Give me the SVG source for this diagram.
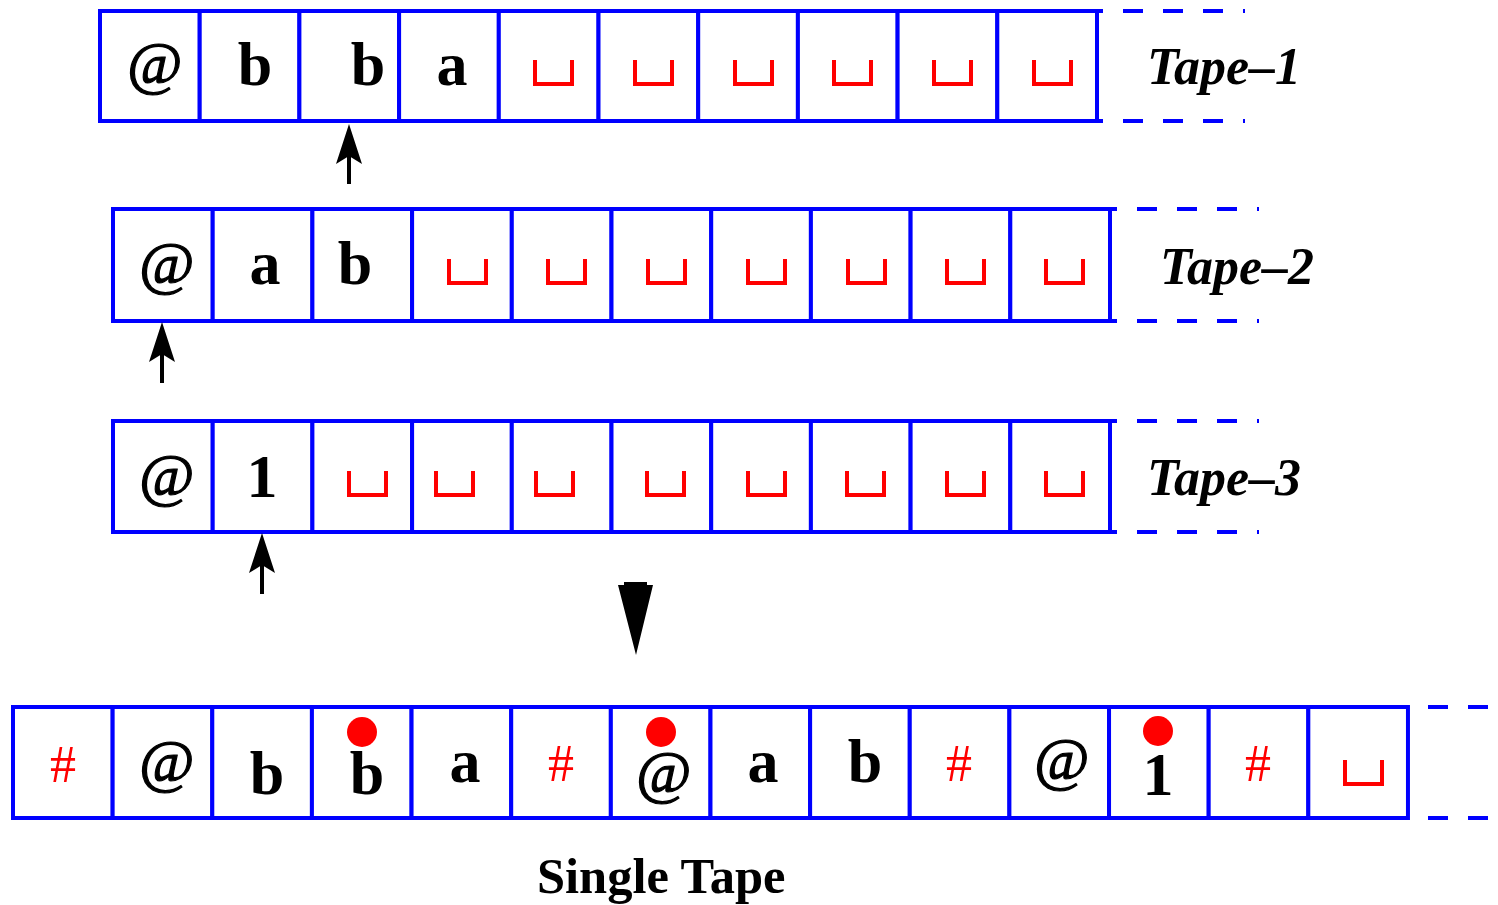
<svg xmlns="http://www.w3.org/2000/svg" width="1498" height="905" viewBox="0 0 1498 905">
  <style>
    .cell { fill: #ffffff; stroke: #0000ff; stroke-width: 4; }
    .ext { stroke: #0000ff; stroke-width: 4; stroke-dasharray: 20 20; fill: none; }
    .sym { font-family: "Liberation Serif", "Times New Roman", serif; font-weight: bold; font-size: 62px; fill: #000000; text-anchor: middle; }
    .at { font-family: "Liberation Serif", "Times New Roman", serif; font-size: 60px; fill: #000000; stroke: #000000; stroke-width: 1.2; text-anchor: middle; }
    .hash { font-family: "Liberation Serif", "Times New Roman", serif; font-size: 52px; fill: #ff0000; text-anchor: middle; }
    .label { font-family: "Liberation Serif", "Times New Roman", serif; font-weight: bold; font-style: italic; font-size: 52px; fill: #000000; }
    .title { font-family: "Liberation Serif", "Times New Roman", serif; font-weight: bold; font-size: 50.5px; fill: #000000; }
    .blank { fill: none; stroke: #ff0000; stroke-width: 4; }
    .head { fill: #ff0000; }
    .shaft { stroke: #000000; stroke-width: 4; fill: none; }
  </style>
  <defs>
    <!-- blank-cell symbol: an open-topped box -->
    <path id="blank" class="blank" d="M2,0 V24 H39 V0"/>
    <!-- notched head for the tape-head pointers -->
    <marker id="up" viewBox="0 0 40 26" refX="14" refY="13" markerWidth="40" markerHeight="26" markerUnits="userSpaceOnUse" orient="auto">
      <path d="M0,0 L40,13 L0,26 L8,13 Z" fill="#000000"/>
    </marker>
  </defs>

  <!-- Tape 1 -->
  <g id="tape1">
    <rect class="cell" x="100" y="11" width="99.7" height="110"/>
    <rect class="cell" x="199.7" y="11" width="99.7" height="110"/>
    <rect class="cell" x="299.4" y="11" width="99.7" height="110"/>
    <rect class="cell" x="399.1" y="11" width="99.7" height="110"/>
    <rect class="cell" x="498.8" y="11" width="99.7" height="110"/>
    <rect class="cell" x="598.5" y="11" width="99.7" height="110"/>
    <rect class="cell" x="698.2" y="11" width="99.7" height="110"/>
    <rect class="cell" x="797.9" y="11" width="99.7" height="110"/>
    <rect class="cell" x="897.6" y="11" width="99.7" height="110"/>
    <rect class="cell" x="997.3" y="11" width="99.7" height="110"/>
    <path class="ext" d="M1083,11 H1245 M1083,121 H1245"/>
    <text class="at" x="155" y="83">@</text>
    <text class="sym" x="255" y="85">b</text>
    <text class="sym" x="368" y="85">b</text>
    <text class="sym" x="452" y="85">a</text>
    <use href="#blank" x="533" y="60"/>
    <use href="#blank" x="633" y="60"/>
    <use href="#blank" x="733" y="60"/>
    <use href="#blank" x="832" y="60"/>
    <use href="#blank" x="932" y="60"/>
    <use href="#blank" x="1032" y="60"/>
  </g>
  <g id="label1"><text class="label" x="1147" y="84">Tape–1</text></g>

  <!-- Tape 2 -->
  <g id="tape2">
    <rect class="cell" x="113" y="209" width="99.7" height="112"/>
    <rect class="cell" x="212.7" y="209" width="99.7" height="112"/>
    <rect class="cell" x="312.4" y="209" width="99.7" height="112"/>
    <rect class="cell" x="412.1" y="209" width="99.7" height="112"/>
    <rect class="cell" x="511.8" y="209" width="99.7" height="112"/>
    <rect class="cell" x="611.5" y="209" width="99.7" height="112"/>
    <rect class="cell" x="711.2" y="209" width="99.7" height="112"/>
    <rect class="cell" x="810.9" y="209" width="99.7" height="112"/>
    <rect class="cell" x="910.6" y="209" width="99.7" height="112"/>
    <rect class="cell" x="1010.3" y="209" width="99.7" height="112"/>
    <path class="ext" d="M1097,209 H1259 M1097,321 H1259"/>
    <text class="at" x="167" y="283">@</text>
    <text class="sym" x="265" y="284">a</text>
    <text class="sym" x="355" y="284">b</text>
    <use href="#blank" x="447" y="259"/>
    <use href="#blank" x="546" y="259"/>
    <use href="#blank" x="646" y="259"/>
    <use href="#blank" x="746" y="259"/>
    <use href="#blank" x="846" y="259"/>
    <use href="#blank" x="945" y="259"/>
    <use href="#blank" x="1044" y="259"/>
  </g>
  <g id="label2"><text class="label" x="1160" y="284">Tape–2</text></g>

  <!-- Tape 3 -->
  <g id="tape3">
    <rect class="cell" x="113" y="421" width="99.7" height="111"/>
    <rect class="cell" x="212.7" y="421" width="99.7" height="111"/>
    <rect class="cell" x="312.4" y="421" width="99.7" height="111"/>
    <rect class="cell" x="412.1" y="421" width="99.7" height="111"/>
    <rect class="cell" x="511.8" y="421" width="99.7" height="111"/>
    <rect class="cell" x="611.5" y="421" width="99.7" height="111"/>
    <rect class="cell" x="711.2" y="421" width="99.7" height="111"/>
    <rect class="cell" x="810.9" y="421" width="99.7" height="111"/>
    <rect class="cell" x="910.6" y="421" width="99.7" height="111"/>
    <rect class="cell" x="1010.3" y="421" width="99.7" height="111"/>
    <path class="ext" d="M1097,421 H1259 M1097,532 H1259"/>
    <text class="at" x="167" y="495">@</text>
    <text class="sym" x="262" y="497">1</text>
    <use href="#blank" x="347" y="471"/>
    <use href="#blank" x="434" y="471"/>
    <use href="#blank" x="534" y="471"/>
    <use href="#blank" x="645" y="471"/>
    <use href="#blank" x="746" y="471"/>
    <use href="#blank" x="845" y="471"/>
    <use href="#blank" x="945" y="471"/>
    <use href="#blank" x="1044" y="471"/>
  </g>
  <g id="label3"><text class="label" x="1147" y="495">Tape–3</text></g>

  <!-- Combined single tape -->
  <g id="single">
    <rect class="cell" x="13" y="707" width="99.64" height="111"/>
    <rect class="cell" x="112.64" y="707" width="99.64" height="111"/>
    <rect class="cell" x="212.28" y="707" width="99.64" height="111"/>
    <rect class="cell" x="311.92" y="707" width="99.64" height="111"/>
    <rect class="cell" x="411.56" y="707" width="99.64" height="111"/>
    <rect class="cell" x="511.2" y="707" width="99.64" height="111"/>
    <rect class="cell" x="610.84" y="707" width="99.64" height="111"/>
    <rect class="cell" x="710.48" y="707" width="99.64" height="111"/>
    <rect class="cell" x="810.12" y="707" width="99.64" height="111"/>
    <rect class="cell" x="909.76" y="707" width="99.64" height="111"/>
    <rect class="cell" x="1009.4" y="707" width="99.64" height="111"/>
    <rect class="cell" x="1109.04" y="707" width="99.64" height="111"/>
    <rect class="cell" x="1208.68" y="707" width="99.64" height="111"/>
    <rect class="cell" x="1308.32" y="707" width="99.64" height="111"/>
    <path class="ext" d="M1388,707 H1490 M1388,818 H1490"/>
    <text class="hash" x="63" y="782">#</text>
    <text class="at" x="167" y="781">@</text>
    <text class="sym" x="267" y="794">b</text>
    <circle class="head" cx="362" cy="732" r="15"/>
    <text class="sym" x="367" y="794">b</text>
    <text class="sym" x="465" y="782">a</text>
    <text class="hash" x="561" y="781">#</text>
    <circle class="head" cx="661" cy="732" r="15"/>
    <text class="at" x="664" y="792">@</text>
    <text class="sym" x="763" y="782">a</text>
    <text class="sym" x="865" y="782">b</text>
    <text class="hash" x="959" y="781">#</text>
    <text class="at" x="1062" y="779">@</text>
    <circle class="head" cx="1158" cy="731" r="15"/>
    <text class="sym" x="1158" y="795">1</text>
    <text class="hash" x="1258" y="781">#</text>
    <use href="#blank" x="1343" y="760"/>
  </g>
  <g id="title"><text class="title" x="537" y="893">Single Tape</text></g>

  <!-- Head pointers and the conversion arrow -->
  <g id="connectors">
    <path class="shaft" d="M349,184 V150" marker-end="url(#up)"/>
    <path class="shaft" d="M162,383 V348" marker-end="url(#up)"/>
    <path class="shaft" d="M262,594 V559" marker-end="url(#up)"/>
    <path d="M624,582 H647 V585 L653,585 L636,655 L618,585 L624,585 Z" fill="#000000"/>
  </g>
</svg>
